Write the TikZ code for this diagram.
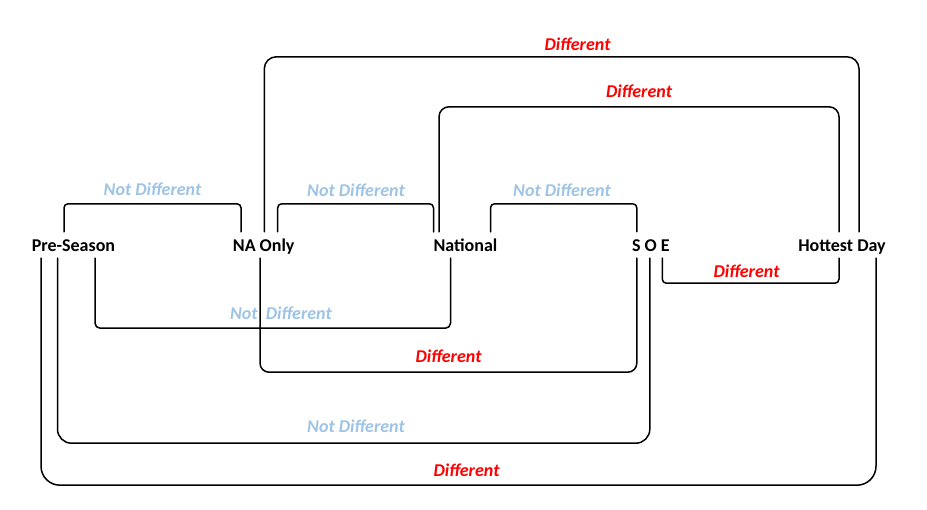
\documentclass[tikz,border=0pt]{standalone}
\usepackage{fontspec}
\setmainfont{Carlito}
\usepackage{xcolor}
\usepackage{tikz}
\usetikzlibrary{positioning}
\definecolor{ndblue}{HTML}{9DC3E6}
\definecolor{dfred}{HTML}{FF0000}

\begin{document}
\begin{tikzpicture}[x=1pt, y=1pt,
  group/.style={font=\fontsize{18}{20}\selectfont\bfseries, text height=14pt, text depth=0pt, inner xsep=0pt, inner ysep=6pt},
  link/.style={line width=1.5pt, line cap=round},
  same/.style={font=\fontsize{18}{20}\selectfont\bfseries\itshape, text=ndblue, anchor=base, inner sep=0pt},
  diff/.style={font=\fontsize{18}{20}\selectfont\bfseries\itshape, text=dfred, anchor=base, inner sep=0pt}]
\useasboundingbox (0,0) rectangle (927,510);
% groups
\node[group] (pre) at (73.5,265) {Pre-Season};
\node[group] (naonly) at (263.7,265) {NA Only};
\node[group] (national) at (465.5,265) {National};
\node[group] (soe) at (650.8,265) {S O E};
\node[group] (hottest) at (842,265) {Hottest Day};
% brackets above
\draw[link, rounded corners=4pt] ([xshift=-9.5pt]pre.north) -- ++(0,28) -| ([xshift=-22.7pt]naonly.north);
\draw[link, rounded corners=4pt] ([xshift=14pt]naonly.north) -- ++(0,28) -| ([xshift=-32pt]national.north);
\draw[link, rounded corners=4pt] ([xshift=25pt]national.north) -- ++(0,28) -| ([xshift=-14pt]soe.north);
\draw[link, rounded corners=12pt] ([xshift=0.6pt]naonly.north) -- ++(0,175) -| ([xshift=17pt]hottest.north);
\draw[link, rounded corners=10pt] ([xshift=-26.5pt]national.north) -- ++(0,125) -| ([xshift=-3pt]hottest.north);
% brackets below
\draw[link, rounded corners=4pt] ([xshift=11.5pt]soe.south) -- ++(0,-25) -| ([xshift=-3pt]hottest.south);
\draw[link, rounded corners=5pt] ([xshift=21.5pt]pre.south) -- ++(0,-70) -| ([xshift=-15pt]national.south);
\draw[link, rounded corners=9pt] ([xshift=-3.7pt]naonly.south) -- ++(0,-114) -| ([xshift=-14pt]soe.south);
\draw[link, rounded corners=14pt] ([xshift=-16pt]pre.south) -- ++(0,-185) -| ([xshift=-1pt]soe.south);
\draw[link, rounded corners=19pt] ([xshift=-32.5pt]pre.south) -- ++(0,-227) -| ([xshift=34pt]hottest.south);
% labels
\node[same] (l1) at (152.5,314) {Not Different};
\node[same] (l2) at (356,313) {Not Different};
\node[same] (l3) at (562,313) {Not Different};
\node[diff] (l4) at (577.5,459) {Different};
\node[diff] (l5) at (639,412) {Different};
\node[diff] (l6) at (746.5,232) {Different};
\node[same] (l7) at (281,190) {Not\ \ Different};
\node[diff] (l8) at (448.5,147) {Different};
\node[same] (l9) at (356,77) {Not Different};
\node[diff] (l10) at (466.5,33) {Different};
\end{tikzpicture}
\end{document}
